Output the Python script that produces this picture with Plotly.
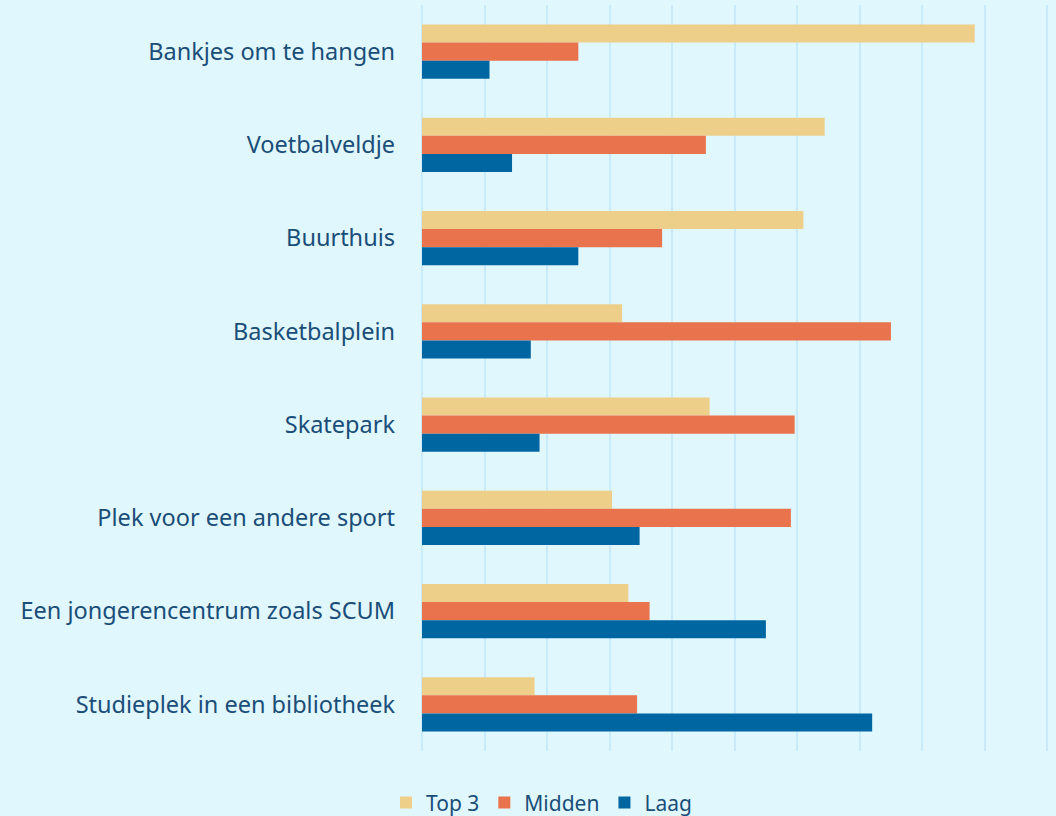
import plotly.graph_objects as go

categories = ["Bankjes om te hangen", "Voetbalveldje", "Buurthuis", "Basketbalplein",
              "Skatepark", "Plek voor een andere sport", "Een jongerencentrum zoals SCUM",
              "Studieplek in een bibliotheek"]
top3 = [44.2, 32.2, 30.5, 16.0, 23.0, 15.2, 16.5, 9.0]
midden = [12.5, 22.7, 19.2, 37.5, 29.8, 29.5, 18.2, 17.2]
laag = [5.4, 7.2, 12.5, 8.7, 9.4, 17.4, 27.5, 36.0]

series = [("Top 3", top3, "#EDCF8A"), ("Midden", midden, "#E9734D"), ("Laag", laag, "#0066A2")]
text_color = "#1A4E78"
font_family = "Noto Sans"

fig = go.Figure()
for name, vals, col in series:
    fig.add_trace(go.Bar(y=categories, x=vals, name=name, orientation="h",
                         marker=dict(color=col, line=dict(width=0))))

fig.update_layout(
    width=1056, height=816,
    barmode="group", bargap=0.42, bargroupgap=0,
    paper_bgcolor="#E0F7FD", plot_bgcolor="#E0F7FD",
    margin=dict(l=422, r=5, t=5, b=65, autoexpand=False),
    font=dict(family=font_family, color=text_color, size=23),
    legend=dict(orientation="h", x=0.19, xanchor="center", xref="paper",
                yref="container", y=0.016, yanchor="middle",
                font=dict(size=21, color=text_color),
                itemwidth=30, traceorder="normal"),
    xaxis=dict(range=[0, 50.3], dtick=5, showticklabels=False, showgrid=True,
               gridcolor="#C8EAFA", gridwidth=2, zeroline=True, zerolinecolor="#C8EAFA",
               zerolinewidth=2, showline=False),
    yaxis=dict(autorange="reversed", showgrid=False, ticks="", ticklabelstandoff=26,
               tickfont=dict(size=23.5, color=text_color)),
)
fig.write_html("out.html", config={"displayModeBar": False},
               post_script="document.body.style.margin='0';document.body.style.background='#E0F7FD';")
